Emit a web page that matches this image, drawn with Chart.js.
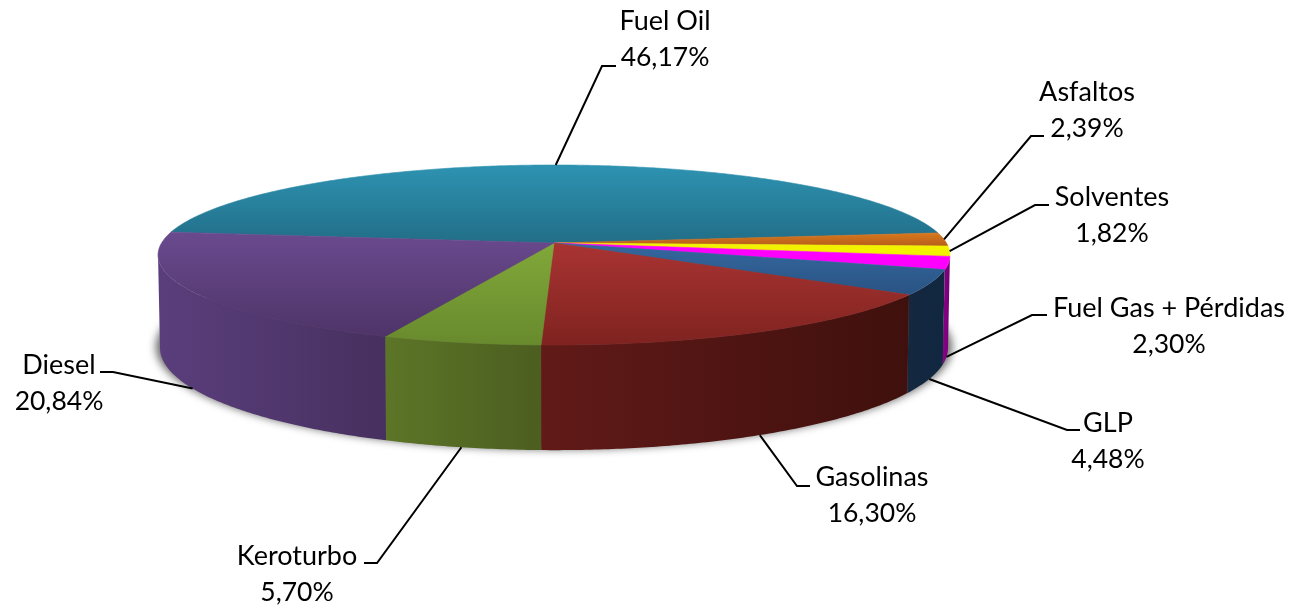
<!DOCTYPE html>
<html>
<head>
<meta charset="utf-8">
<style>
  html, body { margin: 0; padding: 0; background: #fff; }
  canvas { display: block; }
</style>
<script src="https://cdn.jsdelivr.net/npm/chart.js@4"></script>
</head>
<body>
<canvas id="pieChart" width="1293" height="608"></canvas>
<script>
const categories = ["Fuel Oil", "Asfaltos", "Solventes", "Fuel Gas + Pérdidas", "GLP", "Gasolinas", "Keroturbo", "Diesel"];
const shares = [46.17, 2.39, 1.82, 2.30, 4.48, 16.30, 5.70, 20.84];

// top face gradient, light to dark
const topLight = ["#2d93b1", "#d9771d", "#f2f200", "#ff00ff", "#34689f", "#a93432", "#81a83a", "#6a4a8e"];
const topDark = ["#226e88", "#b55f1a", "#f2f200", "#ff00ff", "#2a5383", "#7f2320", "#688a2d", "#4e3468"];
// side wall gradient, left to right
const wallLeft = ["#1c5a70", "#8a4a10", "#9a9a00", "#8c008c", "#14293f", "#611a18", "#5c7527", "#5a3e7c"];
const wallRight = ["#1c5a70", "#8a4a10", "#9a9a00", "#7a007a", "#112640", "#3f100d", "#4c5e20", "#47305f"];

// label centre x, first line y, elbow x, elbow y, end of the short leader stub
const labelX = [665, 1087, 1112, 1169, 1108, 872, 297, 59];
const labelY = [21, 92, 197, 308, 423, 477, 556, 365];
const elbowX = [602, 1031, 1035, 1032, 1067, 797, 377, 113];
const elbowY = [66, 136, 205, 315, 430, 486, 563, 372];
const stubX = [616, 1044, 1049, 1047, 1080, 810, 364, 100];

const tiltX = 1.615;   // face half width / outerRadius
const tiltY = 0.3638;  // face half height / outerRadius
const persp = 0.1333;  // front is closer than back
const depth = 0.375;   // wall height / outerRadius
const namePx = 27;
const valuePx = 26.5;
const lineGap = 36.5;

function project(arc, a, low) {
  const r = arc.outerRadius;
  const v = Math.sin(a);
  const s = 1 / (1 - persp * v);
  return {
    x: arc.x + r * tiltX * Math.cos(a) * s * (low ? 0.995 : 1),
    y: arc.y + (r * tiltY * v + (low ? r * depth : 0)) * s
  };
}

function trace(ctx, arc, from, to, low, first) {
  const steps = Math.max(2, Math.ceil(Math.abs(to - from) / 0.01));
  for (let i = 0; i <= steps; i++) {
    const p = project(arc, from + (to - from) * i / steps, low);
    if (i === 0 && first) ctx.moveTo(p.x, p.y);
    else ctx.lineTo(p.x, p.y);
  }
}

const pie3d = {
  id: "pie3d",
  beforeDatasetsDraw(chart) {
    const ctx = chart.ctx;
    const arcs = chart.getDatasetMeta(0).data;
    const a0 = arcs[0];
    const edge = Math.asin(persp);   // where the rim turns away from the viewer
    const tau = Math.PI * 2;

    // soft shadow under the pie: shape is off canvas, only its blur lands here
    ctx.save();
    ctx.shadowColor = "rgba(0,0,0,0.6)";
    ctx.shadowBlur = 8;
    ctx.shadowOffsetX = 3000;
    ctx.fillStyle = "#000";
    ctx.beginPath();
    for (let k = 0; k <= 360; k++) {
      const p = project(a0, k * tau / 360, true);
      const x = a0.x + (p.x - a0.x) * 1.01 - 3000;
      if (k === 0) ctx.moveTo(x, p.y - 1);
      else ctx.lineTo(x, p.y - 1);
    }
    ctx.closePath();
    ctx.fill();
    ctx.restore();

    // side walls
    arcs.forEach((arc, i) => {
      let start = arc.startAngle % tau;
      let end = start + (arc.endAngle - arc.startAngle);
      const ranges = [[start, end], [start - tau, end - tau]];
      ranges.forEach(([s, e]) => {
        const from = Math.max(s, edge);
        const to = Math.min(e, Math.PI - edge);
        if (to <= from) return;
        const l = project(arc, to, true).x;
        const r = project(arc, from, true).x;
        const grad = ctx.createLinearGradient(l, 0, r, 0);
        grad.addColorStop(0, wallLeft[i]);
        grad.addColorStop(1, wallRight[i]);
        ctx.fillStyle = grad;
        ctx.beginPath();
        trace(ctx, arc, from, to, false, true);
        trace(ctx, arc, to, from, true, false);
        ctx.closePath();
        ctx.fill();
      });
    });

    // top face
    arcs.forEach((arc, i) => {
      let minY = arc.y, maxY = arc.y;
      const n = 60;
      for (let k = 0; k <= n; k++) {
        const p = project(arc, arc.startAngle + (arc.endAngle - arc.startAngle) * k / n, false);
        minY = Math.min(minY, p.y);
        maxY = Math.max(maxY, p.y);
      }
      const grad = ctx.createLinearGradient(0, minY, 0, maxY);
      grad.addColorStop(0, topLight[i]);
      grad.addColorStop(1, topDark[i]);
      ctx.fillStyle = grad;
      ctx.strokeStyle = grad;
      ctx.lineWidth = 0.6;
      ctx.beginPath();
      ctx.moveTo(arc.x, arc.y);
      trace(ctx, arc, arc.startAngle, arc.endAngle, false, false);
      ctx.closePath();
      ctx.fill();
      ctx.stroke();
    });
    return false;
  },
  afterDraw(chart) {
    const ctx = chart.ctx;
    const arcs = chart.getDatasetMeta(0).data;
    ctx.save();
    ctx.strokeStyle = "#000";
    ctx.lineWidth = 2;
    ctx.fillStyle = "#000";
    ctx.textAlign = "center";
    ctx.textBaseline = "middle";
    arcs.forEach((arc, i) => {
      const mid = (arc.startAngle + arc.endAngle) / 2;
      const front = Math.sin(mid) > 0.2;
      const p = project(arc, mid, front);
      ctx.beginPath();
      ctx.moveTo(p.x, p.y);
      ctx.lineTo(elbowX[i], elbowY[i]);
      ctx.lineTo(stubX[i], elbowY[i]);
      ctx.stroke();
      ctx.font = namePx + "px Lato";
      ctx.fillText(categories[i], labelX[i], labelY[i]);
      ctx.font = valuePx + "px Lato";
      ctx.fillText(shares[i].toFixed(2).replace(".", ",") + "%", labelX[i], labelY[i] + lineGap);
    });
    ctx.restore();
  }
};

new Chart(document.getElementById("pieChart"), {
  type: "pie",
  data: {
    labels: categories,
    datasets: [{ data: shares, borderWidth: 0 }]
  },
  options: {
    responsive: false,
    animation: false,
    rotation: 277.18,
    layout: { padding: { left: 0, top: 0, right: 185, bottom: 122 } },
    plugins: { legend: { display: false }, tooltip: { enabled: false } }
  },
  plugins: [pie3d]
});
</script>
</body>
</html>
